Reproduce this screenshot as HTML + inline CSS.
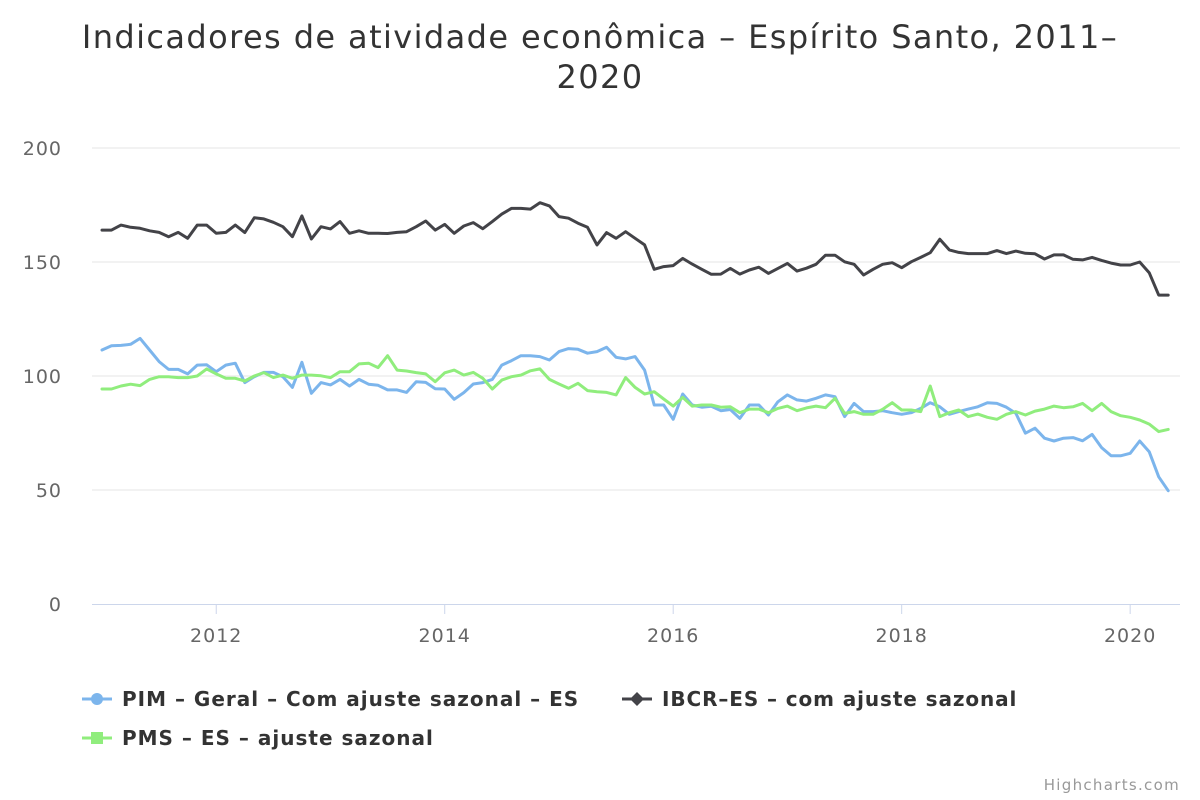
<!DOCTYPE html>
<html><head><meta charset="utf-8"><style>
body{margin:0;background:#fff;}
svg{display:block;font-family:"DejaVu Sans","Liberation Sans",sans-serif;}
</style></head><body>
<svg id="chart" width="1200" height="800">
<text x="600" y="48" text-anchor="middle" font-size="32" letter-spacing="1.4" fill="#333">Indicadores de atividade econômica – Espírito Santo, 2011–</text>
<text x="600" y="88" text-anchor="middle" font-size="32" letter-spacing="1.4" fill="#333">2020</text>
<g id="grid"></g><g id="series"></g><g id="axes"></g>
<g id="legend">
<g><line x1="82" y1="699" x2="112" y2="699" stroke="#7cb5ec" stroke-width="3"/><circle cx="97" cy="699" r="6" fill="#7cb5ec"/><text x="122" y="706" font-size="20" font-weight="bold" letter-spacing="1" fill="#333">PIM – Geral – Com ajuste sazonal – ES</text></g>
<g><line x1="622" y1="699" x2="652" y2="699" stroke="#434348" stroke-width="3"/><path d="M637 692 L644 699 L637 706 L630 699 Z" fill="#434348"/><text x="662" y="706" font-size="20" font-weight="bold" letter-spacing="0.9" fill="#333">IBCR–ES – com ajuste sazonal</text></g>
<g><line x1="82" y1="738" x2="112" y2="738" stroke="#90ed7d" stroke-width="3"/><rect x="91" y="732" width="12" height="12" fill="#90ed7d"/><text x="122" y="745" font-size="20" font-weight="bold" letter-spacing="1" fill="#333">PMS – ES – ajuste sazonal</text></g>
</g>
<text x="1180" y="790" text-anchor="end" font-size="15" letter-spacing="1.3" fill="#999">Highcharts.com</text>
</svg>
<script>
const yTicks=[0,50,100,150,200];
const xTickLabels=["2012","2014","2016","2018","2020"];
const xTickMonths=[12,36,60,84,108];
const ibcr=[164,164,166.2,165.2,164.8,163.7,163,161.1,163,160.4,166.2,166.2,162.6,163,166.2,162.9,169.4,168.9,167.4,165.5,161.1,170.2,160.1,165.5,164.5,167.7,162.6,163.7,162.6,162.6,162.5,163,163.3,165.5,168,164,166.5,162.6,165.8,167.3,164.6,167.7,171,173.5,173.5,173.2,176,174.6,169.9,169.2,167,165.2,157.5,162.9,160.4,163.3,160.4,157.5,146.8,148,148.4,151.6,149.1,146.8,144.6,144.7,147.2,144.7,146.5,147.7,145,147.2,149.4,146,147.3,149,153,153,150.1,149,144.3,146.8,149,149.7,147.5,150.1,152,154.1,160,155.3,154.2,153.7,153.7,153.7,155,153.7,154.8,153.8,153.6,151.3,153.1,153.1,151.2,150.9,152,150.7,149.5,148.7,148.7,150,145.3,135.5,135.5];
const pim=[111.4,113.3,113.4,113.9,116.5,111.4,106.3,102.9,102.9,100.9,104.8,104.9,101.9,104.8,105.6,97.1,99.7,101.6,101.6,99.7,95,106,92.4,97.1,96.1,98.5,95.6,98.5,96.4,95.9,93.9,93.9,92.8,97.5,97.2,94.4,94.3,89.8,92.7,96.5,97.1,98.5,104.8,106.7,108.9,108.9,108.5,107,110.7,112,111.7,110,110.7,112.6,108.2,107.5,108.5,102.6,87.3,87.3,81,92.1,87.3,86.3,86.7,84.8,85.3,81.4,87.3,87.3,82.9,88.7,91.7,89.5,89,90.2,91.7,90.9,82.2,88,84.4,84.4,84.8,83.9,83.2,83.9,85.8,88.3,86.5,83.2,84.4,85.5,86.5,88.3,88,86.3,83.6,74.9,77.1,72.7,71.5,72.7,73,71.6,74.4,68.6,65,65,66.1,71.5,66.8,55.8,49.7];
const pms=[94.3,94.3,95.6,96.4,95.8,98.5,99.7,99.7,99.3,99.3,100,103.1,100.9,99,99,97.8,100,101.5,99.3,100.4,99,100.4,100.4,100.1,99.3,101.9,101.9,105.3,105.6,103.7,108.9,102.6,102.2,101.5,100.9,97.5,101.4,102.6,100.4,101.6,99,94.3,98.2,99.7,100.4,102.3,103.1,98.5,96.5,94.6,96.8,93.6,93.1,92.8,91.7,99.3,95,92.1,93.1,89.9,86.8,90.6,86.8,87.3,87.3,86.3,86.5,83.9,85.5,85.5,83.9,85.8,86.8,84.8,86,86.8,86.1,90.2,83.6,84.4,83.2,83.2,85.4,88.3,85.1,85.1,84.4,95.6,82.2,83.9,85.1,82.2,83.3,81.9,81,83.2,84.4,82.9,84.6,85.5,86.8,86.1,86.5,88,84.8,88,84.4,82.6,81.9,80.7,78.9,75.6,76.6];
const NS="http://www.w3.org/2000/svg";
const x0=102,dx=9.52,yBase=604,yScale=2.28;
function X(i){return x0+dx*i;}
function Y(v){return yBase-v*yScale;}
function mk(tag,attrs,parent){const e=document.createElementNS(NS,tag);for(const k in attrs)e.setAttribute(k,attrs[k]);parent.appendChild(e);return e;}
const grid=document.getElementById('grid'),axes=document.getElementById('axes'),ser=document.getElementById('series');
yTicks.forEach(t=>{
  if(t>0){const l=mk('line',{x1:92,x2:1180,y1:Y(t),y2:Y(t),stroke:'#e6e6e6','stroke-width':1},grid);
  
  }
  const tx=mk('text',{x:62,y:Y(t)+7,'text-anchor':'end','font-size':19,'letter-spacing':1,fill:'#666'},axes);
  tx.textContent=t;
  
  
});
const ax=mk('line',{x1:92,x2:1180,y1:604.5,y2:604.5,stroke:'#ccd6eb','stroke-width':1},axes);


xTickLabels.forEach((lab,k)=>{
  const xx=X(xTickMonths[k]);
  const tk=mk('line',{x1:xx,x2:xx,y1:604,y2:614,stroke:'#ccd6eb','stroke-width':1},axes);
  
  
  const tx=mk('text',{x:xx,y:642,'text-anchor':'middle','font-size':19,'letter-spacing':1,fill:'#666'},axes);
  tx.textContent=lab;
  
  
});
function line(data,color,name){
  const d=data.map((v,i)=>(i?'L':'M')+X(i).toFixed(1)+' '+Y(v).toFixed(1)).join(' ');
  const p=mk('path',{d:d,fill:'none',stroke:color,'stroke-width':3,'stroke-linejoin':'round','stroke-linecap':'round'},ser);
  
  
}
line(pim,'#7cb5ec','series-pim');
line(ibcr,'#434348','series-ibcr');
line(pms,'#90ed7d','series-pms');
</script>
</body></html>
